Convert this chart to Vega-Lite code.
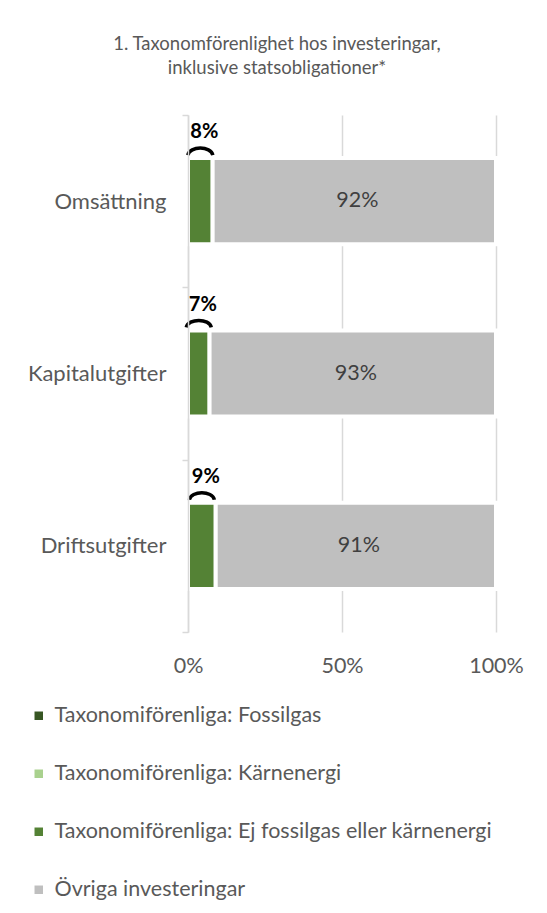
{
  "$schema": "https://vega.github.io/schema/vega-lite/v6.json",
  "width": 308,
  "height": 517,
  "autosize": {"type": "none"},
  "padding": {"left": 188, "top": 115, "right": 51, "bottom": 281},
  "background": "#ffffff",
  "config": {"font": "Lato", "view": {"stroke": null}},
  "title": {
    "text": ["1. Taxonomförenlighet hos investeringar,", "inklusive statsobligationer*"],
    "font": "Lato",
    "fontSize": 18.5,
    "fontWeight": "normal",
    "color": "#595959",
    "anchor": "middle",
    "frame": "group",
    "dx": -65,
    "offset": 27,
    "lineHeight": 24
  },
  "data": {
    "values": [
      {"kategori": "Omsättning", "serie": "Taxonomiförenliga: Fossilgas", "k": 1, "andel": 0},
      {"kategori": "Omsättning", "serie": "Taxonomiförenliga: Kärnenergi", "k": 2, "andel": 0},
      {"kategori": "Omsättning", "serie": "Taxonomiförenliga: Ej fossilgas eller kärnenergi", "k": 3, "andel": 0.08},
      {"kategori": "Omsättning", "serie": "Övriga investeringar", "k": 4, "andel": 0.92},
      {"kategori": "Kapitalutgifter", "serie": "Taxonomiförenliga: Fossilgas", "k": 1, "andel": 0},
      {"kategori": "Kapitalutgifter", "serie": "Taxonomiförenliga: Kärnenergi", "k": 2, "andel": 0},
      {"kategori": "Kapitalutgifter", "serie": "Taxonomiförenliga: Ej fossilgas eller kärnenergi", "k": 3, "andel": 0.07},
      {"kategori": "Kapitalutgifter", "serie": "Övriga investeringar", "k": 4, "andel": 0.93},
      {"kategori": "Driftsutgifter", "serie": "Taxonomiförenliga: Fossilgas", "k": 1, "andel": 0},
      {"kategori": "Driftsutgifter", "serie": "Taxonomiförenliga: Kärnenergi", "k": 2, "andel": 0},
      {"kategori": "Driftsutgifter", "serie": "Taxonomiförenliga: Ej fossilgas eller kärnenergi", "k": 3, "andel": 0.09},
      {"kategori": "Driftsutgifter", "serie": "Övriga investeringar", "k": 4, "andel": 0.91}
    ]
  },
  "layer": [
    {
      "transform": [{"filter": "datum.andel > 0"}],
      "mark": {"type": "bar", "height": {"band": 0.5}, "stroke": "#ffffff", "strokeWidth": 4},
      "encoding": {
        "y": {
          "field": "kategori", "type": "nominal",
          "scale": {"domain": ["Omsättning", "Kapitalutgifter", "Driftsutgifter"], "paddingInner": 0, "paddingOuter": 0},
          "axis": {
            "title": null, "domainColor": "#D9D9D9", "domainWidth": 1.5,
            "tickColor": "#D9D9D9", "tickWidth": 1.5, "tickSize": 6, "tickBand": "extent",
            "labelFontSize": 22, "labelColor": "#595959", "labelPadding": 16, "zindex": 1
          }
        },
        "x": {
          "field": "andel", "type": "quantitative", "stack": "zero",
          "scale": {"domain": [0, 1]},
          "axis": {
            "title": null, "values": [0, 0.5, 1], "format": ".0%", "domain": false, "ticks": false,
            "grid": true, "gridColor": "#D9D9D9", "gridWidth": 1.5, "labelFlush": false,
            "labelFontSize": 21.5, "labelColor": "#595959", "labelPadding": 23, "zindex": 0
          }
        },
        "color": {
          "field": "serie", "type": "nominal",
          "scale": {
            "domain": ["Taxonomiförenliga: Fossilgas", "Taxonomiförenliga: Kärnenergi", "Taxonomiförenliga: Ej fossilgas eller kärnenergi", "Övriga investeringar"],
            "range": ["#375623", "#A9D18E", "#548235", "#BFBFBF"]
          },
          "legend": {
            "title": null, "orient": "none", "legendX": -160, "legendY": 590,
            "direction": "vertical", "symbolType": "square", "symbolSize": 72, "symbolStrokeWidth": 0,
            "labelFontSize": 21.5, "labelColor": "#595959", "labelLimit": 0, "rowPadding": 35, "labelOffset": 5, "padding": 0
          }
        },
        "order": {"field": "k"}
      }
    },
    {
      "transform": [{"filter": "datum.k == 4"}],
      "mark": {"type": "text", "fontSize": 21.5, "color": "#404040", "baseline": "middle", "dx": 3},
      "encoding": {
        "y": {"field": "kategori", "type": "nominal", "scale": {"domain": ["Omsättning", "Kapitalutgifter", "Driftsutgifter"]}},
        "x": {"field": "andel", "type": "quantitative", "scale": {"domain": [0, 2], "reverse": true}, "axis": null},
        "text": {"field": "andel", "format": ".0%"}
      }
    },
    {
      "transform": [{"filter": "datum.k == 3"}],
      "mark": {"type": "text", "fontSize": 20, "fontWeight": "bold", "color": "#000000", "baseline": "middle", "dx": 4},
      "encoding": {
        "y": {"field": "kategori", "type": "nominal", "bandPosition": 0.1, "scale": {"domain": ["Omsättning", "Kapitalutgifter", "Driftsutgifter"]}},
        "x": {"field": "andel", "type": "quantitative", "scale": {"domain": [0, 2]}, "axis": null},
        "text": {"field": "andel", "format": ".0%"}
      }
    },
    {
      "transform": [{"filter": "datum.k == 3"}],
      "mark": {"type": "point", "shape": "M -1 0.45 C -0.85 -0.3 0.85 -0.3 1 0.45", "size": 625, "filled": false, "color": "#000000", "strokeWidth": 3.5, "opacity": 1},
      "encoding": {
        "y": {"field": "kategori", "type": "nominal", "bandPosition": 0.2, "scale": {"domain": ["Omsättning", "Kapitalutgifter", "Driftsutgifter"]}},
        "x": {"field": "andel", "type": "quantitative", "scale": {"domain": [0, 2]}, "axis": null}
      }
    }
  ],
  "resolve": {"scale": {"x": "independent"}}
}
